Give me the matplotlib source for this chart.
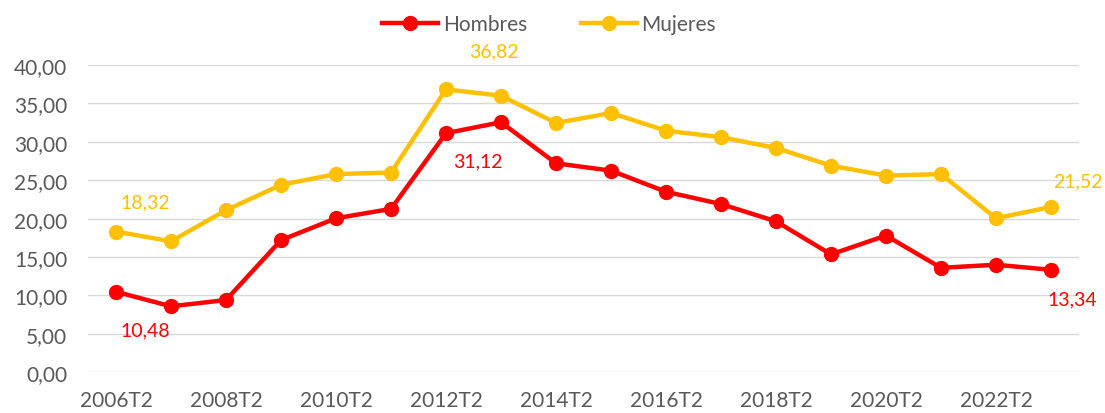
import matplotlib
matplotlib.use("Agg")
import matplotlib.pyplot as plt

periods = [f"{y}T2" for y in range(2006, 2024)]
hombres = [10.48, 8.59, 9.41, 17.2, 20.05, 21.27, 31.12, 32.55, 27.2, 26.25,
           23.5, 21.9, 19.65, 15.35, 17.8, 13.6, 14.0, 13.34]
mujeres = [18.32, 17.05, 21.1, 24.4, 25.8, 26.0, 36.82, 36.0, 32.45, 33.75,
           31.45, 30.6, 29.2, 26.9, 25.6, 25.8, 20.05, 21.52]
y_ticks = [0, 5, 10, 15, 20, 25, 30, 35, 40]

RED = "#FF0000"
GOLD = "#FFC000"
GRAY = "#595959"

plt.rcParams["font.family"] = ["Lato", "DejaVu Sans"]

fig = plt.figure(figsize=(11.05, 4.14), dpi=100)
ax = fig.add_axes([0.0796, 0.0983, 0.8969, 0.7423])

x = list(range(len(periods)))
ax.plot(x, hombres, color=RED, lw=3.2, marker="o", ms=10, label="Hombres", zorder=3)
ax.plot(x, mujeres, color=GOLD, lw=3.2, marker="o", ms=10, label="Mujeres", zorder=3)

ax.set_xlim(-0.51, len(periods) - 0.49)
ax.set_ylim(0, 40)
ax.set_yticks(y_ticks)
ax.set_yticklabels([f"{v:.2f}".replace(".", ",") for v in y_ticks])
ax.set_xticks(x[::2])
ax.set_xticklabels(periods[::2])
ax.tick_params(axis="both", length=0, labelsize=15, colors=GRAY)
ax.tick_params(axis="x", pad=13)
ax.tick_params(axis="y", pad=15)
ax.grid(axis="y", color="#d9d9d9", lw=1)
ax.set_axisbelow(True)
for s in ax.spines.values():
    s.set_visible(False)


def fmt(v):
    return f"{v:.2f}".replace(".", ",")


# data labels (first, peak, last), offsets in pixels
labels = [
    (0, mujeres[0], GOLD, (29, 30)),
    (0, hombres[0], RED, (29, -38)),
    (6, mujeres[6], GOLD, (48, 39)),
    (6, hombres[6], RED, (32, -28)),
    (17, mujeres[17], GOLD, (27, 26)),
    (17, hombres[17], RED, (21, -29)),
]
for i, v, c, off in labels:
    ax.annotate(fmt(v), (i, v), xytext=off, textcoords="offset pixels",
                ha="center", va="center", color=c, fontsize=14)

leg = fig.legend(loc="center", bbox_to_anchor=(0.497, 0.94), ncol=2,
                 frameon=False, fontsize=15, handlelength=2.7,
                 columnspacing=2.6, handletextpad=0.2)
for t in leg.get_texts():
    t.set_color(GRAY)

fig.savefig("out.png", dpi=100)
